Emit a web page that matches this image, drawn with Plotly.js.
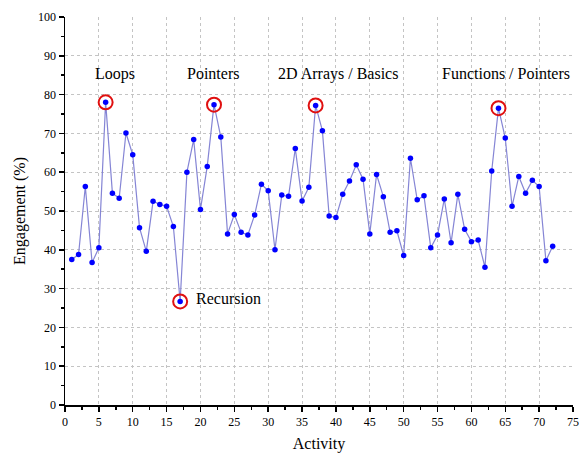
<!DOCTYPE html>
<html>
<head>
<meta charset="utf-8">
<script src="https://cdn.plot.ly/plotly-3.0.1.min.js"></script>
<style>html,body{margin:0;padding:0;background:#fff}#chart{width:579px;height:453px}</style>
</head>
<body>
<div id="chart"></div>
<script>
const activity = Array.from({length: 72}, (_, i) => i + 1);
const engagement = [37.5, 38.8, 56.3, 36.7, 40.5, 78.0, 54.6, 53.3, 70.1, 64.5,
  45.7, 39.6, 52.5, 51.7, 51.2, 46.0, 26.7, 60.0, 68.4, 50.4,
  61.5, 77.4, 69.1, 44.1, 49.1, 44.5, 43.8, 49.0, 56.9, 55.2,
  40.0, 54.1, 53.8, 66.1, 52.6, 56.1, 77.2, 70.7, 48.7, 48.3,
  54.3, 57.7, 61.9, 58.2, 44.1, 59.4, 53.7, 44.5, 44.9, 38.5,
  63.6, 52.9, 53.9, 40.5, 43.8, 53.1, 41.8, 54.3, 45.3, 42.1,
  42.5, 35.5, 60.3, 76.5, 68.8, 51.2, 58.9, 54.6, 57.9, 56.3,
  37.2, 40.9];
const highlightActivities = [6, 17, 22, 37, 64];
const highlightValues = highlightActivities.map(a => engagement[a - 1]);
const topicLabels = ["Loops", "Pointers", "2D Arrays / Basics", "Functions / Pointers"];
const topicX = [7.4, 21.9, 40.3, 65.1];
const topicY = [85.4, 85.4, 85.4, 85.4];
const recursionLabel = "Recursion";
const recursionX = 19.0;
const recursionY = 27.4;

const font = 'Liberation Serif, Times New Roman, serif';

const traces = [
  {
    x: activity, y: engagement, type: 'scatter', mode: 'lines+markers',
    line: {color: '#8585d5', width: 1.2},
    marker: {color: '#0000ff', size: 5.5},
    hoverinfo: 'x+y', showlegend: false
  },
  {
    x: highlightActivities, y: highlightValues, type: 'scatter', mode: 'markers',
    marker: {color: 'rgba(0,0,0,0)', size: 14, line: {color: '#e01010', width: 2}},
    showlegend: false
  }
];

const annotations = topicLabels.map((t, i) => ({
  x: topicX[i], y: topicY[i], text: t, showarrow: false,
  xanchor: 'center', yanchor: 'middle', font: {family: font, size: 16, color: '#000'}
}));
annotations.push({x: recursionX, y: recursionY, text: recursionLabel, showarrow: false,
  xanchor: 'left', yanchor: 'middle', font: {family: font, size: 16, color: '#000'}});

const axisCommon = {
  showline: true, linecolor: '#000', linewidth: 1.5,
  ticks: 'outside', ticklen: 5, tickwidth: 1.5, tickcolor: '#000',
  showgrid: true, gridcolor: '#c4c4c4', griddash: 'dot', gridwidth: 1,
  zeroline: false, mirror: false,
  tickfont: {family: font, size: 12, color: '#000'}
};

const layout = {
  width: 579, height: 453,
  margin: {l: 65, r: 6, t: 17, b: 48},
  paper_bgcolor: '#fff', plot_bgcolor: '#fff',
  xaxis: Object.assign({}, axisCommon, {
    range: [0, 75], dtick: 5, tick0: 0,
    minor: {ticks: 'outside', dtick: 2.5, ticklen: 3, tickwidth: 1.5, tickcolor: '#000', showgrid: false},
    title: {text: 'Activity', font: {family: font, size: 16, color: '#000'}, standoff: 10}
  }),
  yaxis: Object.assign({}, axisCommon, {
    range: [0, 100], dtick: 10, tick0: 0,
    minor: {ticks: 'outside', dtick: 5, ticklen: 3, tickwidth: 1.5, tickcolor: '#000', showgrid: false},
    title: {text: 'Engagement (%)', font: {family: font, size: 16, color: '#000'}, standoff: 8}
  }),
  annotations: annotations
};

Plotly.newPlot('chart', traces, layout, {displayModeBar: false, staticPlot: true});
</script>
</body>
</html>
